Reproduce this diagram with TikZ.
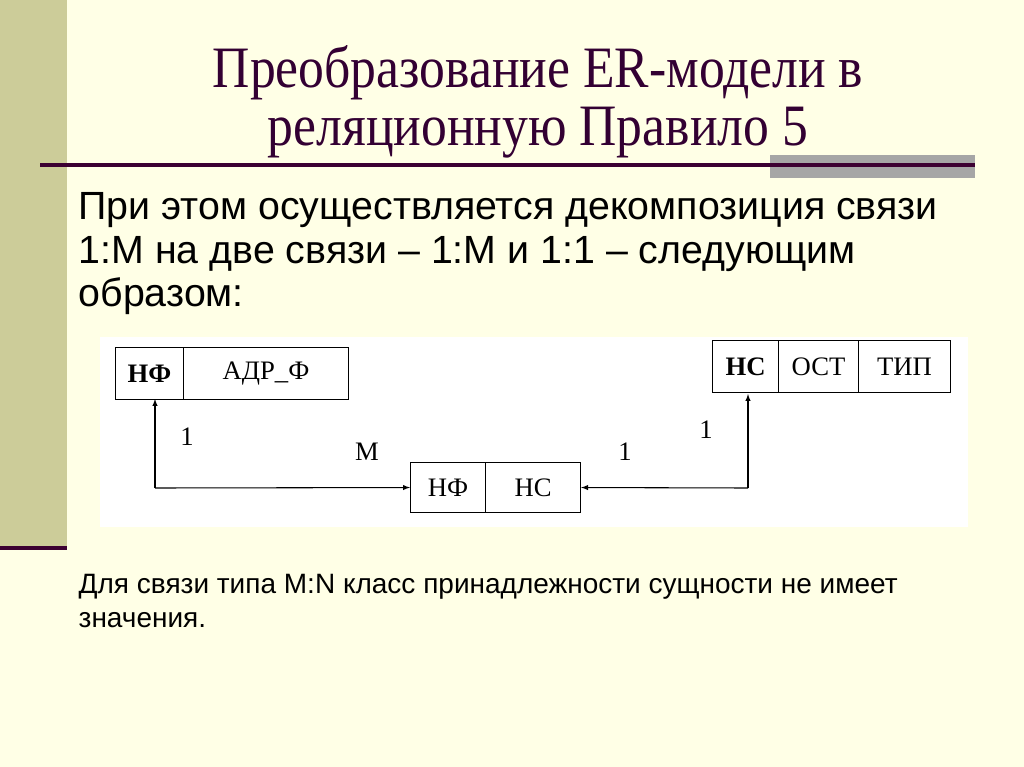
\documentclass[tikz,border=0pt]{standalone}
\usepackage{fontspec}
\setmainfont{Liberation Serif}
\setsansfont{Liberation Sans}
\definecolor{bgc}{RGB}{255,255,230}
\definecolor{barc}{RGB}{204,204,153}
\definecolor{maroon}{RGB}{60,0,50}
\definecolor{titlec}{RGB}{51,0,51}
\begin{document}
\begin{tikzpicture}[x=0.75pt,y=-0.75pt,
  cell/.style={draw,thick,minimum height=52*0.75pt,inner sep=0pt,font=\fontsize{20}{22}\selectfont},
  lbl/.style={font=\fontsize{20}{22}\selectfont},
  arr/.style={thick,-latex}]
\useasboundingbox (0,0) rectangle (1024,767);
\fill[bgc] (0,0) rectangle (1024,767);
\fill[barc] (0,0) rectangle (67,548);
\draw[line width=3pt,maroon] (0,548) -- (67,548);
\fill[gray!70] (770,155) rectangle (975,178);
\draw[line width=2.5pt,maroon] (40,165) -- (975,165);
\node[align=center,text=titlec,font=\fontsize{44}{43.5}\selectfont] (title) at (538,102) {\scalebox{0.88}[1]{Преобразование ER-модели в}\\\scalebox{0.88}[1]{реляционную Правило 5}};
\node[anchor=north west,align=left,font=\sffamily\fontsize{29.5}{32.5}\selectfont] (body) at (74,188) {При этом осуществляется декомпозиция связи\\1:М на две связи -- 1:М и 1:1 -- следующим\\образом:};
\fill[white] (100,337) rectangle (968,527);
\node[anchor=north west,align=left,font=\sffamily\fontsize{21}{25.5}\selectfont] (note) at (74,570) {Для связи типа M:N класс принадлежности сущности не имеет\\значения.};
% boxes
\node[cell,minimum width=68*0.75pt,anchor=north west,font=\bfseries\fontsize{20}{22}\selectfont] (f1) at (115,347) {НФ};
\node[cell,minimum width=165*0.75pt,anchor=north west] (f2) at (183,347) {АДР\_Ф};
\node[cell,minimum width=66*0.75pt,anchor=north west,font=\bfseries\fontsize{20}{22}\selectfont] (s1) at (712,340) {НС};
\node[cell,minimum width=80*0.75pt,anchor=north west] (s2) at (778,340) {ОСТ};
\node[cell,minimum width=92*0.75pt,anchor=north west] (s3) at (858,340) {ТИП};
\node[cell,minimum width=75*0.75pt,minimum height=50*0.75pt,anchor=north west] (m1) at (410,462) {НФ};
\node[cell,minimum width=95*0.75pt,minimum height=50*0.75pt,anchor=north west] (m2) at (485,462) {НС};
\coordinate (c1) at (155,488);
\coordinate (c2) at (748,488);
\draw[arr] (c1) -- (155,399);
\draw[arr] (c1) -- (m1.west);
\draw[arr] (c2) -- (748,394);
\draw[arr] (c2) -- (m2.east);
\node[lbl] (l1) at (187,437) {1};
\node[lbl] (lM) at (367,452) {M};
\node[lbl] (l2) at (625,452) {1};
\node[lbl] (l3) at (706,430) {1};
\end{tikzpicture}
\end{document}
